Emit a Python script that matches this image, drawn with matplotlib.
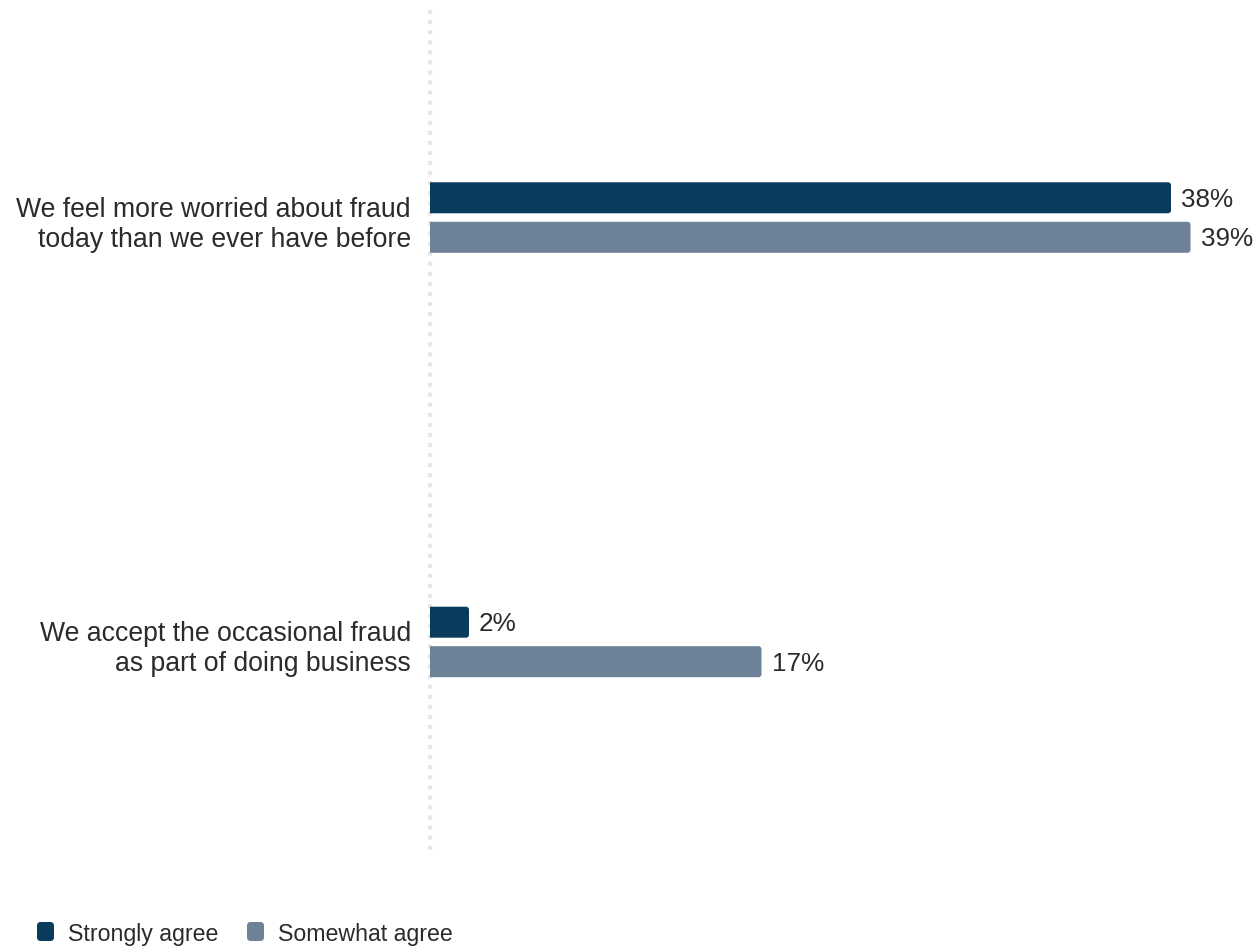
import matplotlib.pyplot as plt
from matplotlib.patches import FancyBboxPatch, PathPatch
from matplotlib.path import Path

categories = ['We feel more worried about fraud\ntoday than we ever have before',
              'We accept the occasional fraud\nas part of doing business']
series_names = ['Strongly agree', 'Somewhat agree']
strongly_agree = [38, 2]
somewhat_agree = [39, 17]
colors = ['#083b5c', '#6e8297']

plt.rcParams['font.family'] = ['Liberation Sans', 'DejaVu Sans']
text_color = '#2b2b2b'

fig = plt.figure(figsize=(12.6, 9.47), dpi=100)
W, H = 1260, 947
ax = fig.add_axes([430 / W, (H - 855) / H, 780 / W, 845 / H])
ax.set_xlim(0, 40)
ax.set_ylim(1.502, -0.489)

px_x = 780 / 40
px_y = 845 / (1.502 + 0.489)
bar_h = 31 / px_y
offset = 19.75 / px_y


def rounded_bar(v, yc, color, r=3.0):
    # bar with square left end and rounded right corners
    rx, ry = r / px_x, r / px_y
    y0, y1 = yc - bar_h / 2, yc + bar_h / 2
    verts = [(0, y0), (v - rx, y0), (v, y0), (v, y0 + ry), (v, y1 - ry),
             (v, y1), (v - rx, y1), (0, y1), (0, y0)]
    codes = [Path.MOVETO, Path.LINETO, Path.CURVE3, Path.CURVE3, Path.LINETO,
             Path.CURVE3, Path.CURVE3, Path.LINETO, Path.CLOSEPOLY]
    ax.add_patch(PathPatch(Path(verts, codes), fc=color, ec='none', zorder=3))


for j, vals in enumerate([strongly_agree, somewhat_agree]):
    for i, v in enumerate(vals):
        y = i + (-offset if j == 0 else offset)
        rounded_bar(v, y, colors[j])
        ax.text(v + 10 / px_x, y + 9.2 / px_y, f'{v}%', va='baseline', ha='left',
                fontsize=18.8, color=text_color)

# dotted baseline
ax.plot([0, 0], [-0.489, 1.502], color='#e6e6e6', lw=2.9, ls=(0, (1.0, 1.5)),
        solid_capstyle='butt', dash_capstyle='butt', zorder=1, clip_on=False)

for i, cat in enumerate(categories):
    for k, line in enumerate(cat.split('\n')):
        ax.text(-19 / px_x, i + (-0.8 + 30 * k) / px_y, line, ha='right',
                va='baseline', fontsize=19.2, color=text_color)

ax.axis('off')

# legend
for j, name in enumerate(series_names):
    x0 = [37, 247][j]
    fig.patches.append(FancyBboxPatch((x0 / W, (H - 941) / H), 17 / W, 19 / H,
                                      boxstyle='round,pad=0,rounding_size=0.003',
                                      transform=fig.transFigure,
                                      mutation_aspect=W / H,
                                      fc=colors[j], ec='none'))
    fig.text((x0 + 31) / W, (H - 941) / H, name, ha='left', va='baseline',
             fontsize=16.7, color=text_color)

fig.savefig('out.png', dpi=100)
